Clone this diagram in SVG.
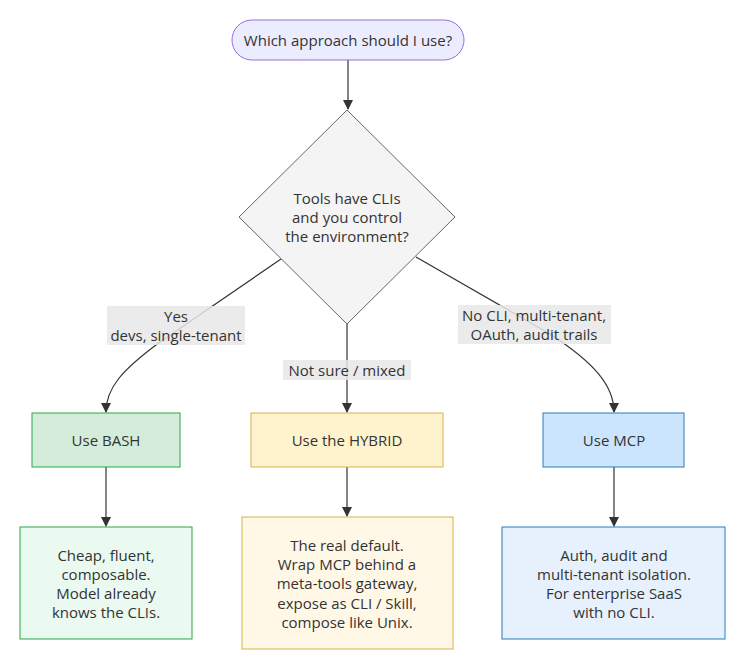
<svg xmlns="http://www.w3.org/2000/svg" width="745" height="668" viewBox="0 0 745 668">
<defs>
<style>
text{font-family:"Open Sans","DejaVu Sans",sans-serif;font-size:15px;fill:#333;text-anchor:middle;dominant-baseline:central}
.edge{fill:none;stroke:#333;stroke-width:1.2}
.lbg{fill:#e8e8e8;opacity:0.85}
</style>
<marker id="arr" viewBox="0 0 10 10" refX="9" refY="5" markerWidth="10" markerHeight="10" markerUnits="userSpaceOnUse" orient="auto">
<path d="M0,0 L10,5 L0,10 z" fill="#333"/>
</marker>
</defs>
<rect width="745" height="668" fill="#fff"/>
<g id="edges">
<path class="edge" d="M348,60 L348,109" marker-end="url(#arr)"/>
<path class="edge" d="M281,259 L160,342 C122,370 106,388 106,412" marker-end="url(#arr)"/>
<path class="edge" d="M347,324 L347,412" marker-end="url(#arr)"/>
<path class="edge" d="M416,257 L550,334 C593,362 614,385 614,412" marker-end="url(#arr)"/>
<path class="edge" d="M106,467 L106,526" marker-end="url(#arr)"/>
<path class="edge" d="M347,467 L347,516" marker-end="url(#arr)"/>
<path class="edge" d="M614,467 L614,526" marker-end="url(#arr)"/>
</g>
<g id="edge-labels">
<rect class="lbg" x="107" y="306" width="138" height="39"/>
<text x="176" y="316">Yes</text>
<text x="176" y="335">devs, single-tenant</text>
<rect class="lbg" x="283" y="360" width="128" height="20"/>
<text x="347" y="370">Not sure / mixed</text>
<rect class="lbg" x="458" y="305" width="153" height="39"/>
<text x="534" y="315">No CLI, multi-tenant,</text>
<text x="534" y="334">OAuth, audit trails</text>
</g>
<g id="start">
<rect x="232" y="20" width="232" height="40" rx="20" fill="#ECECFF" stroke="#9370DB" stroke-width="1"/>
<text x="348" y="40">Which approach should I use?</text>
</g>
<g id="decision">
<polygon points="347,110 455,217 347,324 239,217" fill="#f4f4f4" stroke="#666" stroke-width="1"/>
<text x="347" y="198">Tools have CLIs</text>
<text x="347" y="217">and you control</text>
<text x="347" y="236">the environment?</text>
</g>
<g id="bash">
<rect x="32" y="413" width="148" height="54" fill="#d4edda" stroke="#28a745" stroke-width="1"/>
<text x="106" y="440">Use BASH</text>
</g>
<g id="hybrid">
<rect x="251" y="413" width="192" height="54" fill="#fff3cd" stroke="#d4b44a" stroke-width="1"/>
<text x="347" y="440">Use the HYBRID</text>
</g>
<g id="mcp">
<rect x="543" y="413" width="141" height="54" fill="#cce5ff" stroke="#2d7bb6" stroke-width="1"/>
<text x="614" y="440">Use MCP</text>
</g>
<g id="bash-detail">
<rect x="20" y="527" width="172" height="112" fill="#eafaf0" stroke="#28a745" stroke-width="1"/>
<text x="106" y="555">Cheap, fluent,</text>
<text x="106" y="574">composable.</text>
<text x="106" y="593">Model already</text>
<text x="106" y="612">knows the CLIs.</text>
</g>
<g id="hybrid-detail">
<rect x="242" y="517" width="211" height="132" fill="#fff8e6" stroke="#d4b44a" stroke-width="1"/>
<text x="347" y="545">The real default.</text>
<text x="347" y="564">Wrap MCP behind a</text>
<text x="347" y="583">meta-tools gateway,</text>
<text x="347" y="603">expose as CLI / Skill,</text>
<text x="347" y="622">compose like Unix.</text>
</g>
<g id="mcp-detail">
<rect x="502" y="527" width="223" height="112" fill="#e6f1fd" stroke="#2d7bb6" stroke-width="1"/>
<text x="614" y="555">Auth, audit and</text>
<text x="614" y="574">multi-tenant isolation.</text>
<text x="614" y="593">For enterprise SaaS</text>
<text x="614" y="612">with no CLI.</text>
</g>
</svg>
